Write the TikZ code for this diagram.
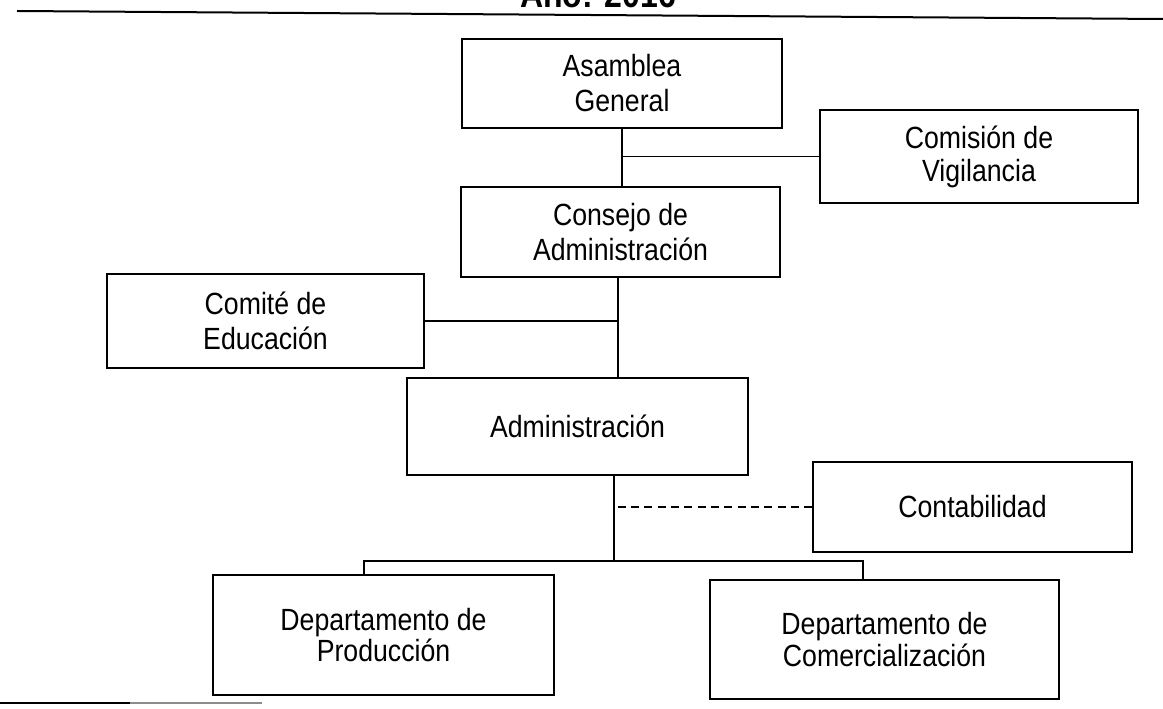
\documentclass[tikz,border=0pt]{standalone}
\usepackage{fontspec}
\setmainfont{Liberation Sans}[FakeStretch=0.87]
\begin{document}
\begin{tikzpicture}[x=0.75pt,y=-0.75pt,
  box/.style={draw, line width=1.1pt, inner sep=0pt, align=center,
    font=\fontsize{23}{26.25}\selectfont},
  conn/.style={line width=1.1pt},
  rule/.style={line width=1.5pt}]
\useasboundingbox (0,0) rectangle (1163,709);
\clip (0,0) rectangle (1163,709);

% title and rules
\node[font=\bfseries\fontsize{27.6}{30}\selectfont, anchor=base, inner sep=0pt] (title) at (598,8) {Año: 2016};
\coordinate (tl) at (17,11);
\coordinate (tr) at (1163,19);
\draw[rule] (tl) -- (tr);
\coordinate (bl) at (0,703);
\coordinate (bm) at (130,703);
\coordinate (br) at (262,703);
\draw[line width=1.2pt] (bl) -- (bm);
\draw[line width=1.2pt, black!45] (bm) -- (br);

% boxes
\node[box, minimum width=240pt, minimum height=66.75pt] (asam) at (622,83.5) {Asamblea\\General};
\node[box, minimum width=238.5pt, minimum height=69.75pt, font=\fontsize{23}{24.75}\selectfont] (comis) at (979,156.5) {Comisión de\\Vigilancia};
\node[box, minimum width=239.25pt, minimum height=67.5pt] (consejo) at (620.5,232) {Consejo de\\Administración};
\node[box, minimum width=237.75pt, minimum height=70.5pt] (comite) at (265.5,321) {Comité de\\Educación};
\node[box, minimum width=255.75pt, minimum height=72.75pt] (admin) at (577.5,426.5) {Administración};
\node[box, minimum width=239.25pt, minimum height=67.5pt] (conta) at (972.5,507) {Contabilidad};
\node[box, minimum width=255.75pt, minimum height=90pt, font=\fontsize{23}{23.5}\selectfont] (prod) at (383.5,635) {Departamento de\\Producción};
\node[box, minimum width=261.75pt, minimum height=89.25pt, font=\fontsize{23}{23.5}\selectfont] (comer) at (884.5,639.5) {Departamento de\\Comercialización};

% connectors
\coordinate (v1) at (622,157);
\draw[conn] (asam.south -| v1) -- (consejo.north -| v1);
\draw[conn] (comis.west) -- (comis.west -| v1);
\coordinate (v2) at (618,321);
\draw[conn] (consejo.south -| v2) -- (admin.north -| v2);
\draw[conn] (comite.east) -- (comite.east -| v2);
\coordinate (bus) at (614,561);
\draw[conn] (admin.south -| bus) -- (bus);
\draw[conn, dash pattern=on 6pt off 4pt] (conta.west) -- (conta.west -| bus);
\coordinate (pb) at (364,561);
\coordinate (cb) at (863,561);
\draw[conn] (prod.north -| pb) -- (pb) -- (cb) -- (comer.north -| cb);
\end{tikzpicture}
\end{document}
